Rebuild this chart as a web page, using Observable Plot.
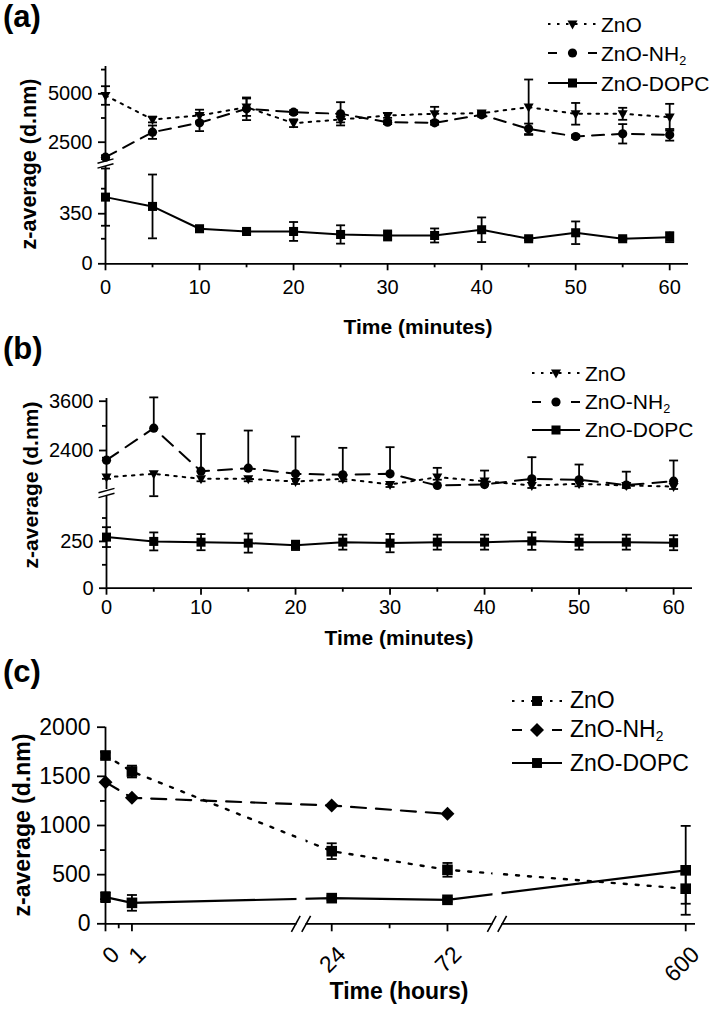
<!DOCTYPE html>
<html>
<head>
<meta charset="utf-8">
<script src="https://cdn.jsdelivr.net/npm/d3@7"></script>
<script src="https://cdn.jsdelivr.net/npm/@observablehq/plot@0.6"></script>
<style>
html,body{margin:0;padding:0;background:#fff;}
#fig{position:relative;width:711px;height:1009px;overflow:hidden;background:#fff;font-family:"Liberation Sans",Arial,Helvetica,sans-serif;color:#000;}
.abs{position:absolute;white-space:nowrap;line-height:1;}
.abs sub{font-size:0.6em;vertical-align:-0.3em;line-height:0;}
</style>
</head>
<body>
<div id="fig"></div>
<script>
// ---------------- data ----------------
const seriesNames = ["ZnO", "ZnO-NH<sub>2</sub>", "ZnO-DOPC"];

// panel (a) and (b): time in minutes
const timeMinutes = [0, 5, 10, 15, 20, 25, 30, 35, 40, 45, 50, 55, 60];

const a_ZnO      = [4912, 3673, 3879, 4308, 3482, 3673, 3879, 3967, 4000, 4308, 3967, 3967, 3791];
const a_ZnO_err  = [480, 150, 300, 450, 200, 150, 120, 360, 100, 1430, 560, 310, 690];
const a_NH2      = [1725, 3017, 3502, 4225, 4050, 3967, 3533, 3502, 3915, 3192, 2795, 2934, 2882];
const a_NH2_err  = [100, 345, 430, 585, 100, 600, 100, 100, 100, 270, 80, 500, 300];
const a_DOPC     = [466, 401, 245, 226, 226, 205, 198, 198, 238, 175, 217, 175, 186];
const a_DOPC_err = [200, 223, 12, 15, 66, 64, 35, 49, 86, 10, 79, 10, 35];

const b_ZnO      = [1750, 1833, 1711, 1711, 1645, 1711, 1572, 1750, 1653, 1548, 1589, 1548, 1523];
const b_ZnO_err  = [40, 1300, 60, 60, 60, 60, 60, 60, 60, 60, 60, 60, 60];
const b_NH2      = [2165, 2943, 1896, 1969, 1833, 1808, 1833, 1548, 1572, 1711, 1687, 1560, 1653];
const b_NH2_err  = [60, 750, 910, 917, 908, 657, 648, 430, 340, 526, 372, 325, 504];
const b_DOPC     = [273, 250, 246, 241, 229, 246, 241, 246, 246, 252, 246, 246, 243];
const b_DOPC_err = [53, 48, 43, 51, 25, 40, 49, 40, 40, 47, 40, 40, 40];

// panel (c): time in hours
const timeHours    = [0, 1, 24, 72, 600];
const timeHoursNH2 = [0, 1, 24, 72];
const c_ZnO      = [1712, 1549, 739, 549, 357];
const c_ZnO_err  = [30, 60, 80, 70, 153];
const c_NH2      = [1441, 1282, 1203, 1119];
const c_NH2_err  = [0, 0, 0, 0];
const c_DOPC     = [271, 213, 261, 244, 544];
const c_DOPC_err = [50, 80, 20, 20, 452];

// ticks
const minuteTicks = [0, 10, 20, 30, 40, 50, 60];
const minuteMinor = [5, 15, 25, 35, 45, 55];
const aYTicks = [0, 350, 2500, 5000];
const aYMinor = [175, 525, 3750, 6250];
const bYTicks = [0, 250, 2400, 3600];
const bYMinor = [125, 375, 3000];
const cYTicks = [0, 500, 1000, 1500, 2000];
const cYMinor = [250, 750, 1250, 1750];
const hourTicks = [0, 1, 24, 72, 600];
const hourMinor = [0.5, 48];

// broken axes: value breakpoints and their share of the axis (in px of axis length)
const aYBreaks = [0, 680, 1555, 6410],  aYShare = [0, 97.3, 103.3, 197.3];
const bYBreaks = [0, 490, 1451, 3666],  bYShare = [0, 91.7, 98.7, 189.7];
const cXBreaks = [0, 7.3, 12.3, 91.5, 524, 604], cXShare = [0, 193, 198, 389, 394, 590];
const cYDomain = [0, 2000];
const minuteDomain = [0, 62];
const cCut = [-40, 1000];

// ---------------- helpers ----------------
const FONT = '"Liberation Sans", Arial, Helvetica, sans-serif';
const AX = 1.8, LW = 2;
const fig = document.getElementById("fig");
const broken = (b, s) => d3.scaleLinear().domain(b).range(s);
const last = a => a[a.length - 1];

const capSym = {draw(ctx, size) {const r = Math.sqrt(size / Math.PI); ctx.moveTo(-r, 0); ctx.lineTo(r, 0);}};
const triDown = {draw(ctx, size) {const r = Math.sqrt(size / Math.PI); ctx.moveTo(-r, -0.72 * r); ctx.lineTo(r, -0.72 * r); ctx.lineTo(0, 1.08 * r); ctx.closePath();}};
const yBreakSym = {draw(ctx, size) {const r = Math.sqrt(size / Math.PI);
  ctx.moveTo(-r, -0.02 * r); ctx.lineTo(r, -0.58 * r); ctx.moveTo(-r, 0.58 * r); ctx.lineTo(r, 0.02 * r);}};
const xBreakSym = {draw(ctx, size) {const r = Math.sqrt(size / Math.PI);
  ctx.moveTo(-1.2 * r, r); ctx.lineTo(-0.1 * r, -r); ctx.moveTo(0.1 * r, r); ctx.lineTo(1.2 * r, -r);}};

const pts = (xs, ys, es) => xs.map((x, i) => ({x, y: ys[i], e: es ? es[i] : 0}));
const fmt = d => String(d);

function errBars(data, {up = true, down = true, r = 4.5} = {}) {
  const dd = data.filter(d => d.e > 0);
  const lo = d => down ? d.y - d.e : d.y, hi = d => up ? d.y + d.e : d.y;
  const m = [Plot.ruleX(dd, {x: "x", y1: lo, y2: hi, strokeWidth: AX})];
  if (up) m.push(Plot.dot(dd, {x: "x", y: hi, symbol: capSym, r, fill: "none", stroke: "black", strokeWidth: AX}));
  if (down) m.push(Plot.dot(dd, {x: "x", y: lo, symbol: capSym, r, fill: "none", stroke: "black", strokeWidth: AX}));
  return m;
}

function place(svg, top) {
  const w = document.createElement("div");
  w.className = "abs"; w.style.left = "0px"; w.style.top = top + "px"; w.style.width = "711px";
  w.appendChild(svg); fig.appendChild(w);
}
function addText(html, {x, baseline, size, bold = false, anchor = "start"}) {
  const d = document.createElement("div");
  d.className = "abs"; d.innerHTML = html;
  d.style.fontSize = size + "px"; d.style.fontWeight = bold ? "bold" : "normal";
  d.style.top = (baseline - 0.8465 * size) + "px"; d.style.left = x + "px";
  if (anchor === "middle") d.style.transform = "translateX(-50%)";
  fig.appendChild(d);
}
function addVText(html, {cx, cy, size}) {
  const d = document.createElement("div");
  d.className = "abs"; d.innerHTML = html;
  d.style.fontSize = size + "px"; d.style.fontWeight = "bold";
  d.style.left = cx + "px"; d.style.top = cy + "px";
  d.style.transform = "translate(-50%,-50%) rotate(-90deg)";
  fig.appendChild(d);
}
function symPath(sym, r) {
  const p = d3.path();
  sym.draw(p, Math.PI * r * r);
  return p.toString();
}
function addLegend(rows, {x0, x1, tx, ys, size, shift}) {
  rows.forEach((row, i) => {
    const w = x1 - x0, h = 24, y = ys[i];
    const dash = row.dash ? `stroke-dasharray="${row.dash}"` : "";
    const s = `<svg width="${w}" height="${h}" style="position:absolute;left:${x0}px;top:${y - h / 2}px;overflow:visible">
      <line x1="0" x2="${w}" y1="${h / 2}" y2="${h / 2}" stroke="black" stroke-width="2" ${dash}/>
      <path transform="translate(${w / 2},${h / 2})" d="${symPath(row.sym, row.r)}" fill="black"/></svg>`;
    const d = document.createElement("div");
    d.innerHTML = s; fig.appendChild(d.firstElementChild);
    addText(seriesNames[i], {x: tx, baseline: y + shift, size});
  });
}

// ---------------- panel (a) ----------------
{
  const zno = pts(timeMinutes, a_ZnO, a_ZnO_err);
  const nh2 = pts(timeMinutes, a_NH2, a_NH2_err);
  const dopc = pts(timeMinutes, a_DOPC, a_DOPC_err);
  const segs = [[aYBreaks[0], aYBreaks[1]], [aYBreaks[2], aYBreaks[3]]];
  const brk = [(aYBreaks[1] + aYBreaks[2]) / 2];
  const svg = Plot.plot({
    width: 711, height: 330, marginLeft: 105, marginRight: 23, marginTop: 66, marginBottom: 66.7,
    style: {fontFamily: FONT, fontSize: "20px", color: "black", background: "transparent", overflow: "visible"},
    x: {domain: minuteDomain, label: null},
    y: {transform: broken(aYBreaks, aYShare), domain: [0, last(aYShare)], label: null},
    marks: [
      Plot.ruleY([0], {x1: minuteDomain[0], x2: minuteDomain[1], strokeWidth: AX}),
      Plot.ruleX(segs, {x: 0, y1: d => d[0], y2: d => d[1], strokeWidth: AX}),
      Plot.axisY(aYTicks, {tickSize: 7, tickPadding: 6, strokeWidth: AX, tickFormat: fmt, label: null}),
      Plot.axisY(aYMinor, {tickSize: 4, strokeWidth: AX, fill: "none", label: null}),
      Plot.axisX(minuteTicks, {tickSize: 7, tickPadding: 9, strokeWidth: AX, tickFormat: fmt, label: null}),
      Plot.axisX(minuteMinor, {tickSize: 4, strokeWidth: AX, fill: "none", label: null}),
      Plot.line(zno, {x: "x", y: "y", strokeWidth: LW, strokeDasharray: "2.5,6"}),
      Plot.line(nh2, {x: "x", y: "y", strokeWidth: LW, strokeDasharray: "12,8"}),
      Plot.line(dopc, {x: "x", y: "y", strokeWidth: LW}),
      ...errBars(zno), ...errBars(nh2), ...errBars(dopc),
      Plot.dot(zno, {x: "x", y: "y", symbol: triDown, r: 5, fill: "black", stroke: "none"}),
      Plot.dot(nh2, {x: "x", y: "y", symbol: "circle", r: 4.6, fill: "black", stroke: "none"}),
      Plot.dot(dopc, {x: "x", y: "y", symbol: "square", r: 5.1, fill: "black", stroke: "none"}),
      Plot.dot(brk, {x: 0, y: d => d, symbol: yBreakSym, r: 8, fill: "none", stroke: "black", strokeWidth: 1.5})
    ]
  });
  place(svg, 0);
  addText("(a)", {x: 3, baseline: 27.5, size: 31, bold: true});
  addText("Time (minutes)", {x: 418, baseline: 334, size: 21, bold: true, anchor: "middle"});
  addVText("z-average (d.nm)", {cx: 30, cy: 163.5, size: 21.5});
  addLegend([
    {sym: triDown, r: 5, dash: "2.5,6.5"},
    {sym: d3.symbolCircle, r: 4.6, dash: "9,31"},
    {sym: d3.symbolSquare, r: 5.1}
  ], {x0: 548, x1: 597, tx: 601, ys: [24, 53, 83], size: 21, shift: 7.5});
}

// ---------------- panel (b) ----------------
{
  const zno = pts(timeMinutes, b_ZnO, b_ZnO_err);
  const nh2 = pts(timeMinutes, b_NH2, b_NH2_err);
  const dopc = pts(timeMinutes, b_DOPC, b_DOPC_err);
  const segs = [[bYBreaks[0], bYBreaks[1]], [bYBreaks[2], bYBreaks[3]]];
  const brk = [(bYBreaks[1] + bYBreaks[2]) / 2];
  const svg = Plot.plot({
    width: 711, height: 310, marginLeft: 106, marginRight: 19, marginTop: 68, marginBottom: 52.3,
    style: {fontFamily: FONT, fontSize: "20px", color: "black", background: "transparent", overflow: "visible"},
    x: {domain: minuteDomain, label: null},
    y: {transform: broken(bYBreaks, bYShare), domain: [0, last(bYShare)], label: null},
    marks: [
      Plot.ruleY([0], {x1: minuteDomain[0], x2: minuteDomain[1], strokeWidth: AX}),
      Plot.ruleX(segs, {x: 0, y1: d => d[0], y2: d => d[1], strokeWidth: AX}),
      Plot.axisY(bYTicks, {tickSize: 7, tickPadding: 6, strokeWidth: AX, tickFormat: fmt, label: null}),
      Plot.axisY(bYMinor, {tickSize: 4, strokeWidth: AX, fill: "none", label: null}),
      Plot.axisX(minuteTicks, {tickSize: 7, tickPadding: 5, strokeWidth: AX, tickFormat: fmt, label: null}),
      Plot.axisX(minuteMinor, {tickSize: 4, strokeWidth: AX, fill: "none", label: null}),
      Plot.line(zno, {x: "x", y: "y", strokeWidth: LW, strokeDasharray: "2.5,6"}),
      Plot.line(nh2, {x: "x", y: "y", strokeWidth: LW, strokeDasharray: "14,9"}),
      Plot.line(dopc, {x: "x", y: "y", strokeWidth: LW}),
      ...errBars(zno, {up: false}), ...errBars(nh2, {down: false}), ...errBars(dopc),
      Plot.dot(zno, {x: "x", y: "y", symbol: triDown, r: 5, fill: "black", stroke: "none"}),
      Plot.dot(nh2, {x: "x", y: "y", symbol: "circle", r: 4.6, fill: "black", stroke: "none"}),
      Plot.dot(dopc, {x: "x", y: "y", symbol: "square", r: 5.1, fill: "black", stroke: "none"}),
      Plot.dot(brk, {x: 0, y: d => d, symbol: yBreakSym, r: 8, fill: "none", stroke: "black", strokeWidth: 1.5})
    ]
  });
  place(svg, 330);
  addText("(b)", {x: 3, baseline: 359.5, size: 31, bold: true});
  addText("Time (minutes)", {x: 399, baseline: 645, size: 21, bold: true, anchor: "middle"});
  addVText("z-average (d.nm)", {cx: 30, cy: 485, size: 21});
  addLegend([
    {sym: triDown, r: 5, dash: "2.5,6.5"},
    {sym: d3.symbolCircle, r: 4.6, dash: "9,30"},
    {sym: d3.symbolSquare, r: 5.1}
  ], {x0: 532, x1: 580, tx: 585, ys: [373, 401.5, 429.5], size: 21, shift: 7.5});
}

// ---------------- panel (c) ----------------
{
  const zno = pts(timeHours, c_ZnO, c_ZnO_err);
  const nh2 = pts(timeHoursNH2, c_NH2, c_NH2_err);
  const dopc = pts(timeHours, c_DOPC, c_DOPC_err);
  const brk = [(cXBreaks[1] + cXBreaks[2]) / 2, (cXBreaks[3] + cXBreaks[4]) / 2];
  const svg = Plot.plot({
    width: 711, height: 369, marginLeft: 105, marginRight: 16, marginTop: 86.7, marginBottom: 85.7,
    style: {fontFamily: FONT, fontSize: "23px", color: "black", background: "transparent", overflow: "visible"},
    x: {transform: broken(cXBreaks, cXShare), domain: [0, last(cXShare)], label: null},
    y: {domain: cYDomain, label: null},
    marks: [
      Plot.ruleY([0], {x1: cXBreaks[0], x2: last(cXBreaks), strokeWidth: AX}),
      Plot.ruleX([0], {y1: cYDomain[0], y2: cYDomain[1], strokeWidth: AX}),
      Plot.axisY(cYTicks, {tickSize: 8, tickPadding: 7, strokeWidth: AX, tickFormat: fmt, label: null}),
      Plot.axisY(cYMinor, {tickSize: 5, strokeWidth: AX, fill: "none", label: null}),
      Plot.axisX(hourTicks, {tickSize: 8, strokeWidth: AX, fill: "none", label: null}),
      Plot.axisX(hourMinor, {tickSize: 5, strokeWidth: AX, fill: "none", label: null}),
      Plot.text(hourTicks, {x: d => d, y: 0, text: fmt, rotate: -45, textAnchor: "end", dx: 10, dy: 27, fontSize: 23}),
      Plot.line(zno, {x: "x", y: "y", strokeWidth: 2.4, strokeDasharray: "3,9"}),
      Plot.line(nh2, {x: "x", y: "y", strokeWidth: 2.2, strokeDasharray: "15,10"}),
      Plot.line(dopc, {x: "x", y: "y", strokeWidth: 2.2}),
      Plot.ruleX(brk, {y1: cCut[0], y2: cCut[1], stroke: "white", strokeWidth: 9}),
      Plot.dot(brk, {x: d => d, y: 0, symbol: xBreakSym, r: 8, fill: "none", stroke: "black", strokeWidth: 1.6}),
      ...errBars(zno, {r: 5}), ...errBars(dopc, {r: 5}),
      Plot.dot(zno, {x: "x", y: "y", symbol: "square", r: 6, fill: "black", stroke: "none"}),
      Plot.dot(nh2, {x: "x", y: "y", symbol: "diamond2", r: 6.3, fill: "black", stroke: "none"}),
      Plot.dot(dopc, {x: "x", y: "y", symbol: "square", r: 6, fill: "black", stroke: "none"})
    ]
  });
  place(svg, 640);
  addText("(c)", {x: 3, baseline: 682.5, size: 31, bold: true});
  addText("Time (hours)", {x: 399, baseline: 999, size: 23, bold: true, anchor: "middle"});
  addVText("z-average (d.nm)", {cx: 21.5, cy: 825, size: 23});
  addLegend([
    {sym: d3.symbolSquare, r: 5.6, dash: "2.5,7"},
    {sym: d3.symbolDiamond2, r: 6.3, dash: "10,30"},
    {sym: d3.symbolSquare, r: 5.6}
  ], {x0: 512, x1: 562, tx: 570, ys: [700.5, 729.5, 763], size: 23, shift: 8.2});
}
</script>
</body>
</html>
